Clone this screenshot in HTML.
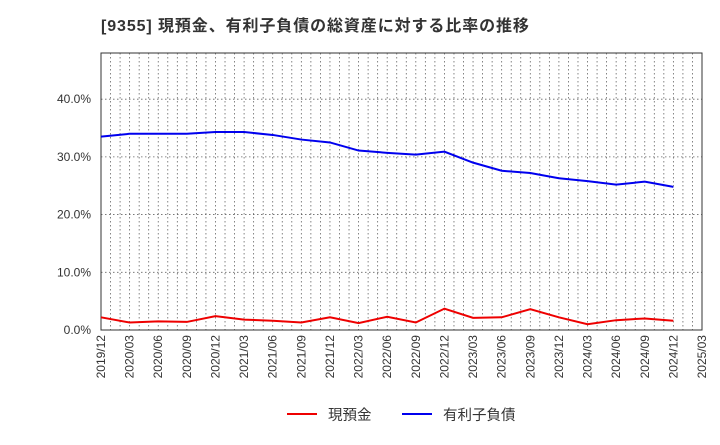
<!DOCTYPE html>
<html><head><meta charset="utf-8"><style>
body{margin:0;background:#fff;font-family:"Liberation Sans","Noto Sans CJK JP",sans-serif}
</style></head><body>
<svg width="720" height="440" xmlns="http://www.w3.org/2000/svg">
<text x="101" y="31" font-size="16" font-weight="bold" fill="#333" letter-spacing="0.9" font-family="Liberation Sans, Noto Sans CJK JP, sans-serif">[9355]  現預金、有利子負債の総資産に対する比率の推移</text>
<g id="grid"></g><g id="axes"></g><g id="series"></g>
<g font-family="Liberation Sans, Noto Sans CJK JP, sans-serif">
<line x1="287" y1="414" x2="317" y2="414" stroke="#e00" stroke-width="2"/>
<text x="328" y="420" font-size="14.5" fill="#333">現預金</text>
<line x1="402" y1="414" x2="432" y2="414" stroke="#00e" stroke-width="2"/>
<text x="443" y="420" font-size="14.5" fill="#333">有利子負債</text>
</g>
</svg>
<script>
const categories=["2019/12","2020/03","2020/06","2020/09","2020/12","2021/03","2021/06","2021/09","2021/12","2022/03","2022/06","2022/09","2022/12","2023/03","2023/06","2023/09","2023/12","2024/03","2024/06","2024/09","2024/12","2025/03"];
const cashValues=[2.2,1.3,1.5,1.4,2.4,1.8,1.6,1.3,2.2,1.2,2.3,1.3,3.7,2.1,2.2,3.6,2.2,1.0,1.7,2.0,1.6];
const debtValues=[33.5,34.0,34.0,34.0,34.3,34.3,33.8,33.0,32.5,31.1,30.7,30.4,30.9,29.0,27.6,27.2,26.3,25.8,25.2,25.7,24.8];
const yTicks=[0,10,20,30,40];
const yTickLabels=["0.0%","10.0%","20.0%","30.0%","40.0%"];
const NS="http://www.w3.org/2000/svg";
const L=101,R=702,T=53,B=330,yMax=48;
const x=i=>L+(R-L)*i/(categories.length-1);
const y=v=>B-(B-T)*v/yMax;
function mk(tag,attrs,parent){const e=document.createElementNS(NS,tag);for(const k in attrs)e.setAttribute(k,attrs[k]);document.getElementById(parent).appendChild(e);return e;}
const nMonths=(categories.length-1)*3;
for(let m=1;m<nMonths;m++){
 const xm=L+(R-L)*m/nMonths;
 const g=mk("line",{x1:xm,x2:xm,y1:T,y2:B,stroke:"#666","stroke-width":0.8,"stroke-dasharray":"1.5,2.5"},"grid");
 
 
}
categories.forEach((c,i)=>{
 const t=mk("text",{x:0,y:0,"font-size":12,fill:"#333","text-anchor":"end",transform:`translate(${x(i)+4},${B+5}) rotate(-90)`},"axes");
 t.textContent=c;
 
 
});
yTicks.forEach((v,i)=>{
 const g=mk("line",{x1:L,x2:R,y1:y(v),y2:y(v),stroke:"#666","stroke-width":0.8,"stroke-dasharray":"1.5,2.5"},"grid");
 
 
 const t=mk("text",{x:91,y:y(v)+4,"font-size":12,fill:"#333","text-anchor":"end"},"axes");
 t.textContent=yTickLabels[i];
 
 
});
const fr=mk("rect",{x:L,y:T,width:R-L,height:B-T,fill:"none",stroke:"#333","stroke-width":1},"axes");


function line(vals,color,name){
 const p=mk("polyline",{points:vals.map((v,i)=>x(i)+","+y(v)).join(" "),fill:"none",stroke:color,"stroke-width":2},"series");
 
 
}
line(cashValues,"#e00","cash-line");
line(debtValues,"#00e","debt-line");
</script>
</body></html>
